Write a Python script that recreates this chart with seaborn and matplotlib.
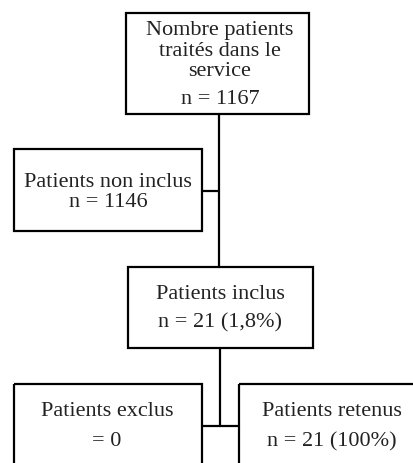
import matplotlib
matplotlib.use("Agg")
import matplotlib.pyplot as plt
import seaborn as sns
from matplotlib.patches import Rectangle

# --- données du diagramme ---
titres = ["Nombre patients\ntraités dans le\nservice", "Patients non inclus", "Patients inclus",
          "Patients exclus", "Patients retenus"]
effectifs = ["n = 1167", "n = 1146", "n = 21 (1,8%)", "= 0", "n = 21 (100%)"]

# --- mise en page (pixels) ---
boites = [(126, 14, 183, 101), (14, 150, 188, 82), (128, 268, 185, 81),
          (14, 385, 188, 100), (239, 385, 190, 100)]
pos_titre = [(220, 51), (108, 183), (220, 295), (107, 412), (332, 412)]
pos_n = [(220, 100), (108, 203), (220, 323), (107, 442), (332, 442)]

sns.set_theme(style="white")
plt.rcParams['font.family'] = ['Liberation Serif', 'DejaVu Serif']

fig = plt.figure(figsize=(4.14, 4.64), dpi=100)
ax = fig.add_axes([0, 0, 1, 1])
ax.set_xlim(0, 414)
ax.set_ylim(464, 0)
ax.axis('off')

lw = 1.6
for (x, y, w, h) in boites:
    ax.add_patch(Rectangle((x, y), w, h, fill=False, edgecolor='black', linewidth=lw))

for t, (x, y) in zip(titres, pos_titre):
    ax.text(x, y, t, ha='center', va='center', fontsize=16, linespacing=1.12, color='#222222')
for t, (x, y) in zip(effectifs, pos_n):
    ax.text(x, y, t, ha='center', va='center', fontsize=16, color='#222222')

# connecteurs
ax.plot([219, 219], [115, 268], color='black', lw=lw)
ax.plot([202, 219], [192, 192], color='black', lw=lw)
ax.plot([220, 220], [349, 427], color='black', lw=lw)
ax.plot([202, 239], [427, 427], color='black', lw=lw)

fig.savefig("out.png", dpi=100)
